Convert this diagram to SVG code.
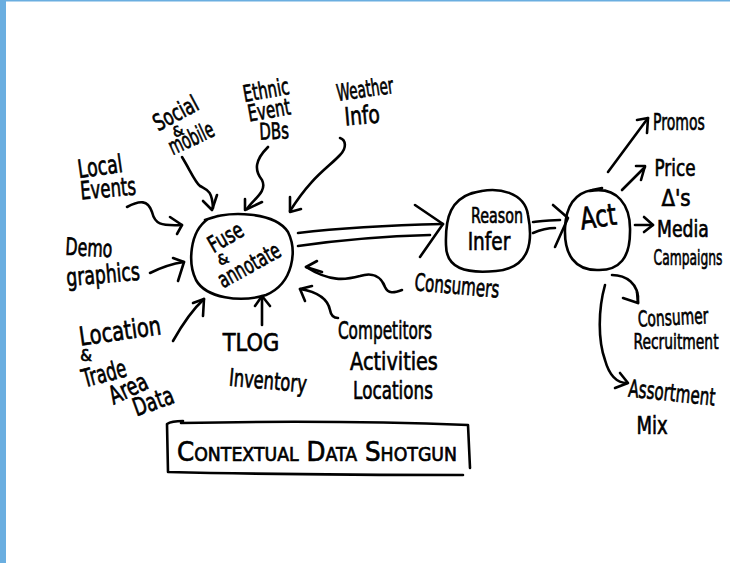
<svg xmlns="http://www.w3.org/2000/svg" width="730" height="563" viewBox="0 0 730 563" font-size="20">
  <style>
    .ink { fill: none; stroke: #000; stroke-width: 2.6; stroke-linecap: round; stroke-linejoin: round; }
    .hand { font-family: "DejaVu Sans", "Liberation Sans", sans-serif; fill: #000; stroke: #000; stroke-width: 0.7; text-anchor: middle; }
    .caps { font-family: "DejaVu Sans", "Liberation Sans", sans-serif; font-size: 27px; font-variant: small-caps; fill: #000; stroke: #000; stroke-width: 0.7; }
  </style>

  <!-- page frame -->
  <rect x="0" y="0" width="730" height="563" fill="#fff"/>
  <rect x="0" y="0" width="6" height="563" fill="#6aaee0"/>
  <rect x="0" y="0" width="730" height="1.5" fill="#6aaee0"/>

  <!-- connectors -->
  <g id="connectors" class="ink">
    <!-- Local Events -->
    <path d="M127 207 C140 200 148 200 152 212 C155 224 160 226 182 225"/>
    <path d="M170 217 L182 225 L177 234"/>
    <!-- Social & mobile -->
    <path d="M182 157 C190 170 195 182 200 186 C207 190 212 190 213 208"/>
    <path d="M203 201 L212 210 L217 195"/>
    <!-- Ethnic Event DBs -->
    <path d="M268 147 C255 160 254 170 262 180 C268 192 252 200 247 209"/>
    <path d="M245 199 L245 210 L262 202"/>
    <!-- Weather Info -->
    <path d="M340 138 C346 140 347 148 340 155 C328 168 312 176 290 211"/>
    <path d="M290 197 L290 212 L301 209"/>
    <!-- Demographics -->
    <path d="M150 273 C160 268 170 264 184 262"/>
    <path d="M173 258 L184 262 L178 281"/>
    <!-- Location & Trade Area Data -->
    <path d="M173 341 C182 325 192 310 204 299"/>
    <path d="M193 303 L204 299 L203 316"/>
    <!-- TLOG Inventory -->
    <path d="M262 325 L262 297"/>
    <path d="M255 306 L262 296 L270 306"/>
    <!-- Competitors -->
    <path d="M338 318 C334 318 331 316 330 310 C328 300 318 292 300 289"/>
    <path d="M312 286 L300 289 L305 301"/>
    <!-- Consumers -->
    <path d="M402 290 C394 293 388 294 385 287 C381 276 372 272 360 276 C345 280 330 282 306 267"/>
    <path d="M317 261 L306 267 L322 272"/>

    <!-- Fuse -> Reason double arrow -->
    <path d="M298 233 C340 228 400 225 443 224"/>
    <path d="M298 246 C340 240 390 236 430 235"/>
    <path d="M415 205 L443 224 L420 257"/>

    <!-- Reason -> Act double arrow -->
    <path d="M533 222 C542 221 550 220 560 220"/>
    <path d="M533 233 C540 230 547 228 555 228"/>
    <path d="M553 205 L568 218 L555 247"/>

    <!-- Act outputs -->
    <path d="M608 172 L648 118"/>
    <path d="M637 120 L648 118 L647 133"/>
    <path d="M622 190 L645 167"/>
    <path d="M636 166 L645 166 L641 180"/>
    <path d="M635 225 L653 225"/>
    <path d="M644 217 L653 225 L644 232"/>
    <path d="M612 275 C625 275 640 283 638 303"/>
    <path d="M623 298 L638 303 L637 292"/>
    <path d="M605 285 C598 310 598 340 605 360 C610 378 618 383 627 383"/>
    <path d="M620 373 L628 383 L615 388"/>
  </g>

  <!-- central fusion node -->
  <g id="fuse">
    <path class="ink" d="M205 220 C230 210 275 212 288 232 C297 250 294 283 266 295 C240 303 206 298 196 280 C188 264 189 232 208 219 L218 216"/>
    <text class="hand" font-size="23" transform="translate(226 238) rotate(-30) scale(0.7 1)" y="7">Fuse</text>
    <text class="hand" font-size="14" transform="translate(223 259) rotate(-20)" y="5">&amp;</text>
    <text class="hand" font-size="23" transform="translate(249 265) rotate(-29) scale(0.66 1)" y="8">annotate</text>
  </g>

  <g id="reason">
    <path class="ink" d="M470 194 C500 184 525 194 528 215 C533 240 531 268 496 271 C465 274 446 268 446 245 C445 215 452 200 472 193 L482 191"/>
    <text class="hand" font-size="22" transform="translate(497 215) scale(0.65 1)" y="8">Reason</text>
    <text class="hand" font-size="25" transform="translate(489 241) scale(0.74 1)" y="9">Infer</text>
  </g>

  <g id="act">
    <path class="ink" d="M590 191 C617 186 631 205 630 232 C630 257 620 271 597 270 C575 270 564 255 565 228 C566 206 575 193 592 190 L602 188"/>
    <text class="hand" font-size="30" transform="translate(598 216) rotate(-8) scale(0.76 1)" y="11">Act</text>
  </g>

  <!-- data sources -->
  <g id="social-mobile">
    <text class="hand" font-size="23" transform="translate(176 114) rotate(-28) scale(0.7 1)" y="7">Social</text>
    <text class="hand" font-size="14" transform="translate(178 131) rotate(-20)" y="5">&amp;</text>
    <text class="hand" font-size="23" transform="translate(191 138) rotate(-25) scale(0.61 1)" y="8">mobile</text>
  </g>
  <g id="ethnic-event-dbs">
    <text class="hand" font-size="23" transform="translate(266 90) rotate(-10) scale(0.65 1)" y="8">Ethnic</text>
    <text class="hand" font-size="23" transform="translate(269 110) rotate(-10) scale(0.65 1)" y="8">Event</text>
    <text class="hand" font-size="23" transform="translate(274 131) rotate(-3) scale(0.65 1)" y="8">DBs</text>
  </g>
  <g id="weather-info">
    <text class="hand" font-size="23" transform="translate(365 89) rotate(-8) scale(0.59 1)" y="8">Weather</text>
    <text class="hand" font-size="25" transform="translate(362 115) rotate(-5) scale(0.75 1)" y="9">Info</text>
  </g>
  <g id="local-events">
    <text class="hand" font-size="25" transform="translate(100 166) rotate(-8) scale(0.69 1)" y="9">Local</text>
    <text class="hand" font-size="25" transform="translate(108 188) rotate(-5) scale(0.66 1)" y="9">Events</text>
  </g>
  <g id="demographics">
    <text class="hand" font-size="24" transform="translate(89 247) rotate(3) scale(0.66 1)" y="9">Demo</text>
    <text class="hand" font-size="25" transform="translate(103 274) rotate(-5) scale(0.69 1)" y="9">graphics</text>
  </g>
  <g id="location-trade-area">
    <text class="hand" font-size="26" transform="translate(120 331) rotate(-8) scale(0.75 1)" y="9">Location</text>
    <text class="hand" font-size="15" transform="translate(86 356)" y="5">&amp;</text>
    <text class="hand" font-size="25" transform="translate(104 373) rotate(-15) scale(0.66 1)" y="9">Trade</text>
    <text class="hand" font-size="25" transform="translate(128 388) rotate(-25) scale(0.7 1)" y="9">Area</text>
    <text class="hand" font-size="25" transform="translate(153 401) rotate(-20) scale(0.7 1)" y="9">Data</text>
  </g>
  <g id="tlog-inventory">
    <text class="hand" font-size="25" transform="translate(251 342) scale(0.84 1)" y="9">TLOG</text>
    <text class="hand" font-size="24" transform="translate(268 380) rotate(5) scale(0.68 1)" y="9">Inventory</text>
  </g>
  <g id="competitors">
    <text class="hand" font-size="24" transform="translate(385 330) scale(0.64 1)" y="9">Competitors</text>
    <text class="hand" font-size="25" transform="translate(394 361) scale(0.77 1)" y="9">Activities</text>
    <text class="hand" font-size="24" transform="translate(393 390) scale(0.7 1)" y="9">Locations</text>
  </g>
  <g id="consumers">
    <text class="hand" font-size="24" transform="translate(457 285) rotate(5) scale(0.63 1)" y="9">Consumers</text>
  </g>

  <!-- actions -->
  <g id="promos">
    <text class="hand" font-size="23" transform="translate(679 122) scale(0.61 1)" y="8">Promos</text>
  </g>
  <g id="price">
    <text class="hand" font-size="23" transform="translate(675 168) scale(0.73 1)" y="8">Price</text>
    <text class="hand" font-size="23" transform="translate(676 198) scale(0.86 1)" y="8">Δ's</text>
  </g>
  <g id="media">
    <text class="hand" font-size="23" transform="translate(683 229) scale(0.75 1)" y="8">Media</text>
    <text class="hand" font-size="22" transform="translate(688 257) scale(0.56 1)" y="8">Campaigns</text>
  </g>
  <g id="recruitment">
    <text class="hand" font-size="22" transform="translate(673 317) rotate(-3) scale(0.63 1)" y="8">Consumer</text>
    <text class="hand" font-size="22" transform="translate(676 341) scale(0.63 1)" y="8">Recruitment</text>
  </g>
  <g id="assortment">
    <text class="hand" font-size="24" transform="translate(672 392) rotate(6) scale(0.63 1)" y="9">Assortment</text>
    <text class="hand" font-size="24" transform="translate(652 425) scale(0.75 1)" y="9">Mix</text>
  </g>

  <!-- title box -->
  <g id="title">
    <path class="ink" d="M183 421 C176 421 170 422 167 424 L168 472 C250 474 380 475 463 475"/>
    <path class="ink" d="M181 423 C280 421 390 422 468 425 L470 468"/>
    <text class="caps" x="177" y="461" textLength="280" lengthAdjust="spacingAndGlyphs">Contextual Data Shotgun</text>
  </g>
</svg>
